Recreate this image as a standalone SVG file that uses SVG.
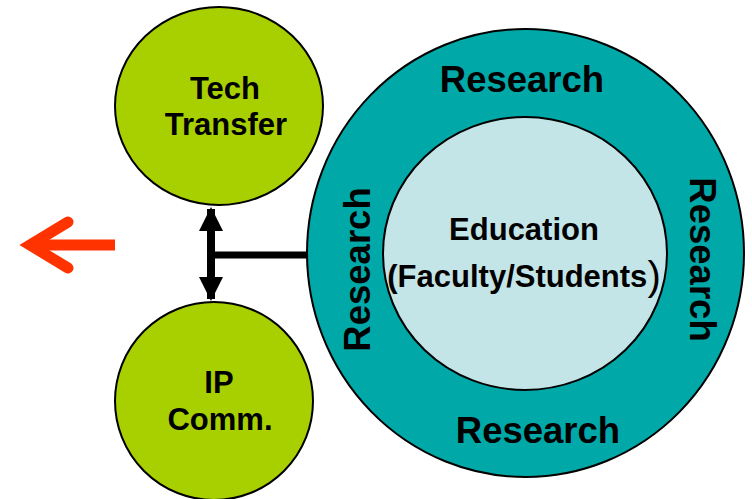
<svg xmlns="http://www.w3.org/2000/svg" width="752" height="499" viewBox="0 0 752 499">
<style>
.lbl{font-family:"Liberation Sans",Arial,sans-serif;font-weight:bold;fill:#000;text-anchor:middle}
.green{fill:#A8D000;stroke:#000;stroke-width:2}
</style>
<defs>
<marker id="ah" viewBox="0 0 24 24" markerWidth="24" markerHeight="24" refX="22" refY="12" markerUnits="userSpaceOnUse" orient="auto">
<path d="M0,0 L24,12 L0,24 Z" fill="#000"/>
</marker>
</defs>
<rect width="752" height="499" fill="#fff"/>
<g id="research">
<ellipse cx="525.5" cy="253" rx="218.5" ry="224" fill="#00A8A8" stroke="#000" stroke-width="2"/>
<text class="lbl" x="522" y="92" font-size="36.5">Research</text>
<text class="lbl" x="538" y="443" font-size="36.5">Research</text>
<text class="lbl" font-size="36.5" transform="translate(370,269.5) rotate(-90)" x="0" y="0">Research</text>
<text class="lbl" font-size="36.5" transform="translate(690,259.5) rotate(90)" x="0" y="0">Research</text>
</g>
<g id="education">
<ellipse cx="525" cy="253.5" rx="142" ry="136.5" fill="#C4E5E7" stroke="#000" stroke-width="2"/>
<text class="lbl" x="524" y="240" font-size="31">Education</text>
<text class="lbl" x="524" y="287" font-size="31">(Faculty/Students<tspan font-size="40" font-weight="normal" dy="3">)</tspan></text>
</g>
<g id="tech-transfer">
<ellipse class="green" cx="219" cy="106" rx="104" ry="99"/>
<text class="lbl" x="225" y="99" font-size="31">Tech</text>
<text class="lbl" x="226" y="135" font-size="31">Transfer</text>
</g>
<g id="ip-comm">
<ellipse class="green" cx="214" cy="401" rx="99" ry="99"/>
<text class="lbl" x="219" y="393" font-size="31">IP</text>
<text class="lbl" x="220" y="430" font-size="31">Comm.</text>
</g>
<g id="connectors">
<line x1="211" y1="255" x2="307" y2="255" stroke="#000" stroke-width="7"/>
<line x1="211" y1="255" x2="211" y2="209" stroke="#000" stroke-width="8" marker-end="url(#ah)"/>
<line x1="211" y1="255" x2="211" y2="299" stroke="#000" stroke-width="8" marker-end="url(#ah)"/>
<g stroke="#FF3300" stroke-width="11" fill="none">
<line x1="115" y1="245" x2="32" y2="245" stroke-linecap="butt"/>
<polyline points="68,222 30,245 68,268" stroke-linecap="round" stroke-linejoin="miter"/>
</g>
</g>
</svg>
